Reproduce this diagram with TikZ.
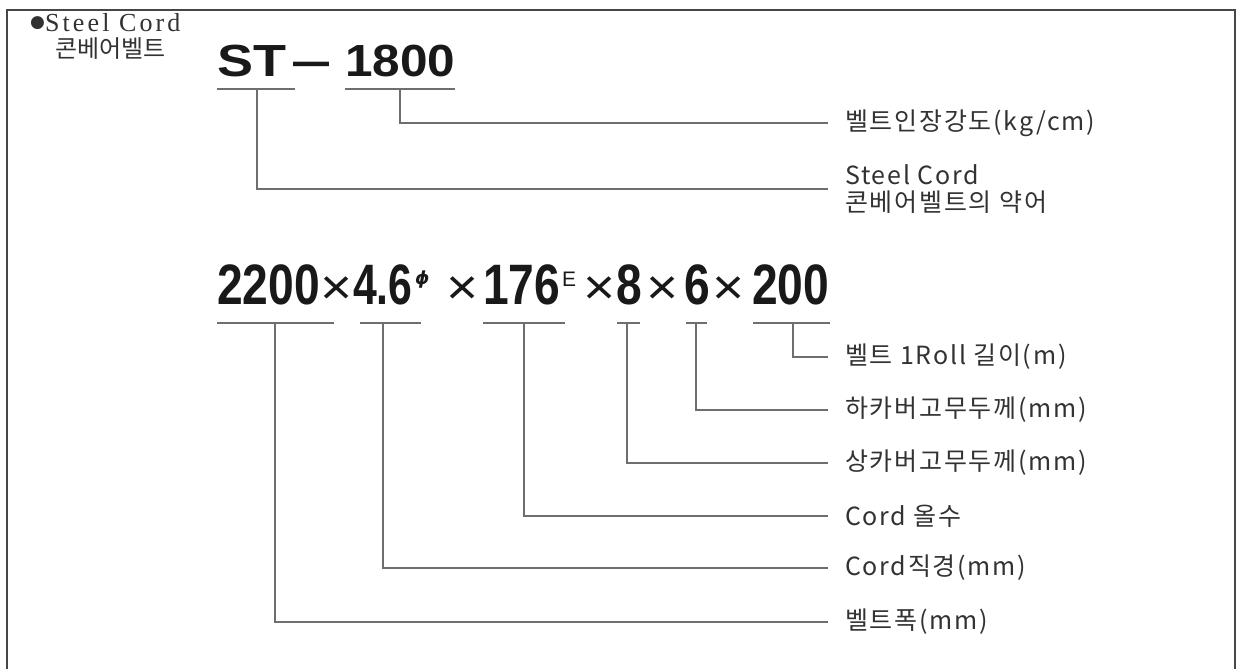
\documentclass[tikz,border=0pt]{standalone}
\usepackage{fontspec}
\usepackage{graphicx}
\setmainfont{Liberation Sans}
\newfontfamily\kr{Noto Sans CJK KR}
\newfontfamily\krlab[LetterSpace=7]{Noto Sans CJK KR}
\newfontfamily\serifL[LetterSpace=12]{Liberation Serif}
\newfontfamily\dejavu{DejaVu Sans}
\definecolor{linec}{RGB}{110,110,110}
\definecolor{framec}{RGB}{70,70,70}
\definecolor{labc}{RGB}{50,50,50}
\definecolor{bigc}{RGB}{25,25,25}
\newcommand{\bigA}{\fontsize{45}{45}\selectfont\bfseries}
\newcommand{\bigB}{\fontsize{57}{57}\selectfont\bfseries}
\newcommand{\timesB}{\fontsize{50}{50}\selectfont}
\tikzset{
  frame/.style={draw=framec, line width=2pt},
  uline/.style={draw=linec, line width=2pt},
  conn/.style={draw=linec, line width=2pt},
  lab/.style={anchor=west, inner sep=0pt, text=labc, font=\krlab\fontsize{25}{27}\selectfont, align=left},
  big/.style={anchor=base west, inner sep=0pt, text=bigc},
  ttl/.style={anchor=base west, inner sep=0pt, text=labc}
}
\begin{document}
\begin{tikzpicture}[x=1pt,y=-1pt]
\useasboundingbox (0,0) rectangle (1239,669);
\fill[white] (0,0) rectangle (1239,669);
\draw[frame] (7,669) -- (7,10) -- (1235,10) -- (1235,669);

% title
\node[ttl] (t1) at (30,32) {\raisebox{4.5pt}{\dejavu\fontsize{17}{17}\selectfont●}\serifL\fontsize{26}{26}\selectfont Steel Cord};
\node[ttl] (t2) at (55,57) {\kr\fontsize{24}{24}\selectfont 콘베어벨트};

% row 1
\node[big] (st) at (217,76) {\bigA\scalebox{1.2}[1]{ST}};
\node[big] (dash) at (293,76) {\bigA\scalebox{0.8}[1]{—}};
\node[big] (n1800) at (345,76) {\bigA\scalebox{1.1}[1]{1800}};

\draw[uline] (217,89) -- (295,89);
\draw[uline] (345,89) -- (455,89);
\coordinate (ust) at (257,89);
\coordinate (u1800) at (400,89);

\node[lab] (l1800) at (845,123) {벨트인장강도(kg/cm)};
\node[lab] (lst) at (845,189) {Steel Cord\\콘베어벨트의 약어};

\draw[conn] (u1800) |- ([xshift=-17pt]l1800.west);
\draw[conn] (ust) |- ([xshift=-17pt]lst.west);

% row 2
\node[big] (a2200) at (217,304) {\bigB\scalebox{0.81}[1]{2200}};
\node[big] (x1) at (320,304) {\timesB\scalebox{1.1}[1]{×}};
\node[big] (a46) at (353,304) {\bigB\scalebox{0.75}[1]{4.6}};
\node[big] (phi) at (415,284) {\dejavu\bfseries\itshape\fontsize{18}{18}\selectfont ϕ};
\node[big] (x2) at (446,304) {\timesB\scalebox{1.1}[1]{×}};
\node[big] (a176) at (483,304) {\bigB\scalebox{0.81}[1]{176}};
\node[big] (sE) at (562,286) {\fontsize{21}{21}\selectfont E};
\node[big] (x3) at (583,304) {\timesB\scalebox{1.1}[1]{×}};
\node[big] (a8) at (616,304) {\bigB\scalebox{0.81}[1]{8}};
\node[big] (x4) at (646,304) {\timesB\scalebox{1.1}[1]{×}};
\node[big] (a6) at (684,304) {\bigB\scalebox{0.81}[1]{6}};
\node[big] (x5) at (712,304) {\timesB\scalebox{1.1}[1]{×}};
\node[big] (a200) at (752,304) {\bigB\scalebox{0.81}[1]{200}};

\draw[uline] (217,323) -- (334,323);
\draw[uline] (360,323) -- (421,323);
\draw[uline] (483,323) -- (565,323);
\draw[uline] (617,323) -- (640,323);
\draw[uline] (686,323) -- (707,323);
\draw[uline] (753,323) -- (830,323);
\coordinate (u2200) at (275,323);
\coordinate (u46) at (383,323);
\coordinate (u176) at (524,323);
\coordinate (u8) at (627,323);
\coordinate (u6) at (696,323);
\coordinate (u200) at (793,323);

\node[lab] (l200) at (845,357) {벨트 1Roll 길이(m)};
\node[lab] (l6) at (845,410) {하카버고무두께(mm)};
\node[lab] (l8) at (845,463) {상카버고무두께(mm)};
\node[lab] (l176) at (845,516) {Cord 올수};
\node[lab] (l46) at (845,568) {Cord직경(mm)};
\node[lab] (l2200) at (845,622) {벨트폭(mm)};

\draw[conn] (u200) |- ([xshift=-17pt]l200.west);
\draw[conn] (u6) |- ([xshift=-17pt]l6.west);
\draw[conn] (u8) |- ([xshift=-17pt]l8.west);
\draw[conn] (u176) |- ([xshift=-17pt]l176.west);
\draw[conn] (u46) |- ([xshift=-17pt]l46.west);
\draw[conn] (u2200) |- ([xshift=-17pt]l2200.west);
\end{tikzpicture}
\end{document}
